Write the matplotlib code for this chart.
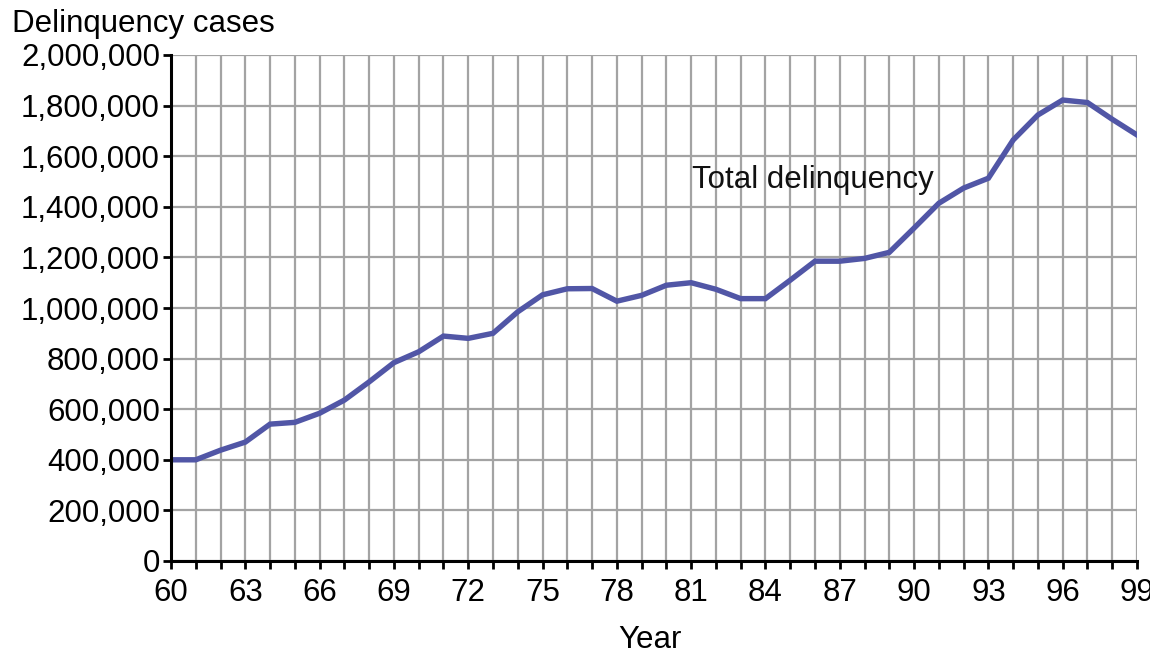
import matplotlib
matplotlib.use("Agg")
import matplotlib.pyplot as plt
from matplotlib.ticker import FuncFormatter, MultipleLocator

plt.rcParams['font.family'] = ['Liberation Sans', 'DejaVu Sans']

years = list(range(60, 100))
cases = [400000, 400000, 438000, 470000, 541000, 548000, 584000, 636000, 708000, 784000,
         827000, 889000, 880000, 900000, 985000, 1052000, 1076000, 1077000, 1027000, 1050000,
         1090000, 1100000, 1074000, 1037000, 1037000, 1110000, 1185000, 1185000, 1196000, 1220000,
         1316000, 1414000, 1474000, 1513000, 1664000, 1763000, 1822000, 1812000, 1746000, 1684000]
series_label = "Total delinquency"
y_title = "Delinquency cases"
x_title = "Year"
x_label_ticks = list(range(60, 100, 3))

FS = 22.5

fig = plt.figure(figsize=(11.5, 6.57), dpi=100)
ax = fig.add_axes([171/1150, 1-561/657, (1137-171)/1150, (561-55)/657])

ax.plot(years, cases, color='#5156a6', linewidth=3.9, solid_joinstyle='miter', zorder=3)
ax.set_xlim(60, 99)
ax.set_ylim(0, 2000000)

ax.set_xticks(x_label_ticks, minor=False)
ax.set_xticks(years, minor=True)
ax.yaxis.set_major_locator(MultipleLocator(200000))
ax.yaxis.set_major_formatter(FuncFormatter(lambda v, p: f"{int(v):,}"))

ax.grid(True, which='both', axis='x', color='#a3a3a3', linewidth=1.6, zorder=0)
ax.grid(True, which='major', axis='y', color='#a3a3a3', linewidth=1.6, zorder=0)
ax.set_axisbelow(True)

for s in ['top', 'right']:
    ax.spines[s].set_visible(False)
for s in ['left', 'bottom']:
    ax.spines[s].set_linewidth(2.2)
    ax.spines[s].set_color('black')
    ax.spines[s].set_zorder(4)

ax.tick_params(axis='both', which='both', direction='out', length=6, width=2, color='black')
ax.tick_params(axis='y', labelsize=FS, pad=2)
ax.tick_params(axis='x', which='major', labelsize=FS, pad=6)

ax.text(81.05, 1505000, series_label, fontsize=FS, va='center', ha='left', color='#111111')

fig.text(12/1150, 1-24/657, y_title, fontsize=FS, va='center', ha='left')
fig.text(650/1150, 1-640/657, x_title, fontsize=FS, va='center', ha='center')

fig.savefig("out.png", dpi=100)
